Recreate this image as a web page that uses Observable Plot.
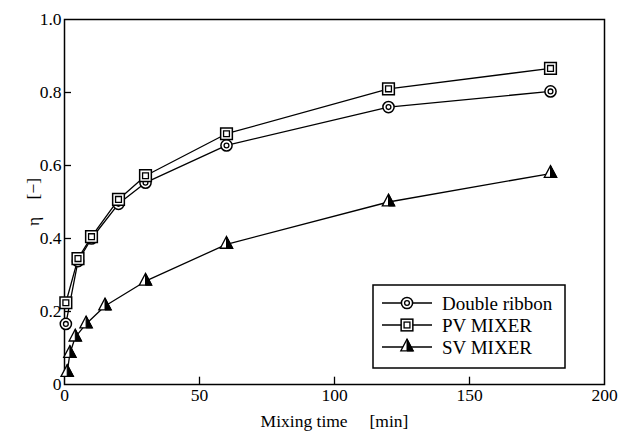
<!DOCTYPE html>
<html>
<head>
<meta charset="utf-8">
<script src="https://cdn.jsdelivr.net/npm/d3@7"></script>
<script src="https://cdn.jsdelivr.net/npm/@observablehq/plot@0.6"></script>
<style>
  html, body { margin: 0; padding: 0; background: #fff; }
  #chart { width: 619px; height: 440px; }
  #chart svg, #chart svg text { font-family: "Liberation Serif", "DejaVu Serif", serif !important; }
</style>
</head>
<body>
<div id="chart"></div>
<script>
// ---- data ----
const seriesNames = ["Double ribbon", "PV MIXER", "SV MIXER"];
const timeDR = [0.5, 5, 10, 20, 30, 60, 120, 180];
const etaDR  = [0.166, 0.338, 0.400, 0.495, 0.553, 0.655, 0.760, 0.803];
const timePV = [0.5, 5, 10, 20, 30, 60, 120, 180];
const etaPV  = [0.224, 0.345, 0.405, 0.507, 0.572, 0.687, 0.810, 0.866];
const timeSV = [1, 2, 4, 8, 15, 30, 60, 120, 180];
const etaSV  = [0.033, 0.085, 0.130, 0.166, 0.215, 0.283, 0.384, 0.500, 0.578];
const xTicks = [0, 50, 100, 150, 200];
const yTicks = [0, 0.2, 0.4, 0.6, 0.8, 1.0];
const xLabel = "Mixing time\u2003 [min]";
const yLabel = "\u03b7\u2003[\u2212]";

const dr = timeDR.map((t, i) => ({t, v: etaDR[i]}));
const pv = timePV.map((t, i) => ({t, v: etaPV[i]}));
const sv = timeSV.map((t, i) => ({t, v: etaSV[i]}));

// custom triangle symbols (shape only)
const triFull = {draw(ctx, size) {
  const w = Math.sqrt(size) * 1.25, h = w * 0.95;
  ctx.moveTo(0, -h * 2 / 3); ctx.lineTo(w / 2, h / 3); ctx.lineTo(-w / 2, h / 3); ctx.closePath();
}};
const triRight = {draw(ctx, size) {
  const w = Math.sqrt(size) * 1.25, h = w * 0.95;
  ctx.moveTo(0, -h * 2 / 3); ctx.lineTo(w / 2, h / 3); ctx.lineTo(0, h / 3); ctx.closePath();
}};

const font = "Liberation Serif, DejaVu Serif, serif";
const lw = 1.3;

const plot = Plot.plot({
  width: 619,
  height: 440,
  marginLeft: 64,
  marginRight: 15,
  marginTop: 19,
  marginBottom: 56,
  style: {fontFamily: font, fontSize: "17px", color: "#000", background: "#fff"},
  x: {domain: [0, 200]},
  y: {domain: [0, 1]},
  marks: [
    Plot.frame({stroke: "#000", strokeWidth: 1.5}),
    Plot.axisX({ticks: xTicks, tickSize: 0, tickPadding: 4, tickFormat: d => String(d),
      label: xLabel, labelAnchor: "center", labelArrow: "none", labelOffset: 42, fontSize: 17.5, fontFamily: font}),
    Plot.axisY({ticks: yTicks, tickSize: 0, tickPadding: 3, tickFormat: d => d === 0 ? "0" : d.toFixed(1),
      label: yLabel, labelAnchor: "center", labelArrow: "none", labelOffset: 38, fontSize: 17.5, fontFamily: font}),
    // inward ticks
    Plot.ruleX(xTicks.slice(1, -1), {x: d => d, y1: 0, y2: 0.02, stroke: "#000", strokeWidth: 1.3}),
    Plot.ruleY(yTicks.slice(1, -1), {y: d => d, x1: 0, x2: 2.6, stroke: "#000", strokeWidth: 1.3}),
    // lines
    Plot.line(dr, {x: "t", y: "v", stroke: "#000", strokeWidth: lw}),
    Plot.line(pv, {x: "t", y: "v", stroke: "#000", strokeWidth: lw}),
    Plot.line(sv, {x: "t", y: "v", stroke: "#000", strokeWidth: lw}),
    // Double ribbon markers (double circle)
    Plot.dot(dr, {x: "t", y: "v", r: 5.6, fill: "#fff", stroke: "#000", strokeWidth: 1.5}),
    Plot.dot(dr, {x: "t", y: "v", r: 2.4, fill: "none", stroke: "#000", strokeWidth: 1.3}),
    // PV markers (double square)
    Plot.dot(pv, {x: "t", y: "v", symbol: "square", r: 6.6, fill: "#fff", stroke: "#000", strokeWidth: 1.5}),
    Plot.dot(pv, {x: "t", y: "v", symbol: "square", r: 3.3, fill: "none", stroke: "#000", strokeWidth: 1.3}),
    // SV markers (half-filled triangle)
    Plot.dot(sv, {x: "t", y: "v", symbol: triFull, r: 5.6, fill: "#fff", stroke: "#000", strokeWidth: 1.3}),
    Plot.dot(sv, {x: "t", y: "v", symbol: triRight, r: 5.6, fill: "#000", stroke: "#000", strokeWidth: 1})
  ]
});

document.getElementById("chart").appendChild(plot);

const svg = d3.select(plot);
svg.attr("font-family", font);
svg.selectAll("text").attr("font-family", font);

// ---- legend (drawn into the same SVG) ----
const g = svg.append("g").attr("font-family", font).attr("font-size", 19).attr("text-anchor", "start");
const bx = 373, by = 285, bw = 192, bh = 83;
g.append("rect").attr("x", bx).attr("y", by).attr("width", bw).attr("height", bh)
  .attr("fill", "#fff").attr("stroke", "#000").attr("stroke-width", 1.5);
const rows = [303, 325, 347];
const lx1 = 382, lx2 = 432, mx = 407, tx = 442;
seriesNames.forEach((name, i) => {
  const y = rows[i];
  g.append("line").attr("x1", lx1).attr("x2", lx2).attr("y1", y).attr("y2", y)
    .attr("stroke", "#000").attr("stroke-width", lw);
  if (i === 0) {
    g.append("circle").attr("cx", mx).attr("cy", y).attr("r", 5.6).attr("fill", "#fff").attr("stroke", "#000").attr("stroke-width", 1.5);
    g.append("circle").attr("cx", mx).attr("cy", y).attr("r", 2.4).attr("fill", "none").attr("stroke", "#000").attr("stroke-width", 1.3);
  } else if (i === 1) {
    const s = Math.sqrt(Math.PI) * 6.6;
    g.append("rect").attr("x", mx - s / 2).attr("y", y - s / 2).attr("width", s).attr("height", s).attr("fill", "#fff").attr("stroke", "#000").attr("stroke-width", 1.5);
    const s2 = Math.sqrt(Math.PI) * 3.3;
    g.append("rect").attr("x", mx - s2 / 2).attr("y", y - s2 / 2).attr("width", s2).attr("height", s2).attr("fill", "none").attr("stroke", "#000").attr("stroke-width", 1.3);
  } else {
    const p1 = d3.path(); triFull.draw(p1, Math.PI * 5.6 * 5.6);
    const p2 = d3.path(); triRight.draw(p2, Math.PI * 5.6 * 5.6);
    g.append("path").attr("d", p1.toString()).attr("transform", `translate(${mx},${y})`).attr("fill", "#fff").attr("stroke", "#000").attr("stroke-width", 1.3);
    g.append("path").attr("d", p2.toString()).attr("transform", `translate(${mx},${y})`).attr("fill", "#000").attr("stroke", "#000").attr("stroke-width", 1);
  }
  g.append("text").attr("x", tx).attr("y", y).attr("dy", "0.35em").attr("fill", "#000").text(name);
});
</script>
</body>
</html>
